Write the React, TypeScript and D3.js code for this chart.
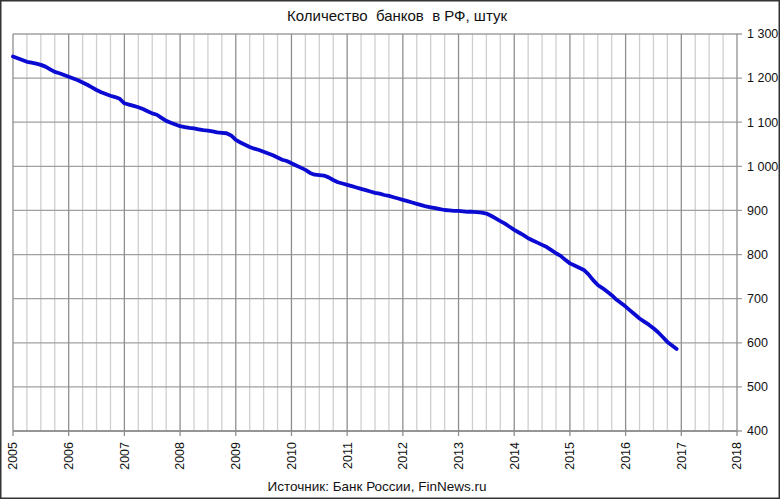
import React from "react";
import * as d3 from "d3";

const years = d3.range(2005, 2019);
const yTicks = [400, 500, 600, 700, 800, 900, 1000, 1100, 1200, 1300];
const startYear = 2005;
const banks2005 = [1249, 1245, 1241, 1237, 1235, 1233, 1230, 1226, 1220, 1214, 1211, 1207];
const banks2006 = [1203, 1199, 1195, 1190, 1185, 1179, 1173, 1168, 1164, 1160, 1157, 1153];
const banks2007 = [1143, 1140, 1137, 1134, 1130, 1125, 1120, 1117, 1110, 1103, 1099, 1095];
const banks2008 = [1091, 1089, 1087, 1086, 1084, 1082, 1081, 1079, 1077, 1076, 1075, 1070];
const banks2009 = [1060, 1054, 1049, 1044, 1040, 1037, 1033, 1029, 1025, 1020, 1015, 1012];
const banks2010 = [1007, 1002, 997, 992, 985, 981, 980, 979, 975, 969, 964, 961];
const banks2011 = [958, 955, 952, 949, 946, 943, 940, 938, 935, 933, 930, 927];
const banks2012 = [924, 921, 918, 915, 912, 909, 907, 905, 903, 901, 900, 899];
const banks2013 = [899, 898, 897, 897, 896, 895, 893, 888, 882, 876, 870, 863];
const banks2014 = [856, 850, 844, 837, 832, 827, 822, 817, 810, 803, 797, 788];
const banks2015 = [780, 775, 770, 765, 755, 742, 731, 724, 716, 708, 698, 690];
const banks2016 = [682, 673, 664, 655, 648, 641, 633, 624, 613, 602, 594, 586];
const series = [
  banks2005, banks2006, banks2007, banks2008, banks2009, banks2010,
  banks2011, banks2012, banks2013, banks2014, banks2015, banks2016,
].flat();

const title = "Количество  банков  в РФ, штук";
const source = "Источник: Банк России, FinNews.ru";

const W = 780;
const H = 499;
const M = { left: 13, right: 737, top: 34, bottom: 431 };

export default function App() {
  const x = d3.scaleLinear().domain([2005, 2018]).range([M.left, M.right]);
  const y = d3.scaleLinear().domain([400, 1300]).range([M.bottom, M.top]);
  const quarters = d3.range(2005, 2018.001, 0.25).filter((q) => Math.abs(q - Math.round(q)) > 0.01);
  const pts: [number, number][] = series.map((v, i) => [startYear + i / 12, v]);
  const line = d3
    .line<[number, number]>()
    .x((d) => x(d[0]))
    .y((d) => y(d[1]));
  const font = "'Liberation Sans', Arial, sans-serif";
  const fmt = (v: number) => (v >= 1000 ? `${Math.floor(v / 1000)} ${String(v % 1000).padStart(3, "0")}` : String(v));
  return (
    <svg
      width={W}
      height={H}
      style={{ position: "fixed", left: 0, top: 0, background: "#fff" }}
      fontFamily={font}
    >
      <rect x={0} y={0} width={W} height={H} fill="#fff" />
      {quarters.map((q) => (
        <line key={"q" + q} x1={x(q)} x2={x(q)} y1={M.top} y2={M.bottom} stroke="#cfcfcf" strokeWidth={1.3} />
      ))}
      {yTicks.map((t) => (
        <line key={"h" + t} x1={M.left} x2={M.right + 5} y1={y(t)} y2={y(t)} stroke="#a0a0a0" strokeWidth={1.3} />
      ))}
      {years.map((yr) => (
        <line key={"y" + yr} x1={x(yr)} x2={x(yr)} y1={M.top} y2={M.bottom + 5} stroke="#8f8f8f" strokeWidth={1.3} />
      ))}
      <line x1={M.left} x2={M.right} y1={M.bottom} y2={M.bottom} stroke="#8a8a8a" strokeWidth={1.3} />
      <path d={line(pts) || ""} fill="none" stroke="#0a0ad2" strokeWidth={3.8} strokeLinejoin="round" strokeLinecap="round" />
      {yTicks.map((t) => (
        <text key={"yl" + t} x={M.right + 10} y={y(t)} dy="0.35em" fontSize={12.5} fill="#111">
          {fmt(t)}
        </text>
      ))}
      {years.map((yr) => (
        <text
          key={"xl" + yr}
          transform={`translate(${x(yr)},${M.bottom + 11}) rotate(-90)`}
          textAnchor="end"
          dy="0.35em"
          fontSize={12.5}
          fill="#111"
        >
          {yr}
        </text>
      ))}
      <text x={397} y={21} textAnchor="middle" fontSize={15} fill="#111" style={{ whiteSpace: "pre" }}>
        {title}
      </text>
      <text x={377} y={491} textAnchor="middle" fontSize={13.5} fill="#111">
        {source}
      </text>
      <rect x={0.75} y={0.75} width={W - 1.5} height={H - 1.5} fill="none" stroke="#333" strokeWidth={1.5} />
    </svg>
  );
}
